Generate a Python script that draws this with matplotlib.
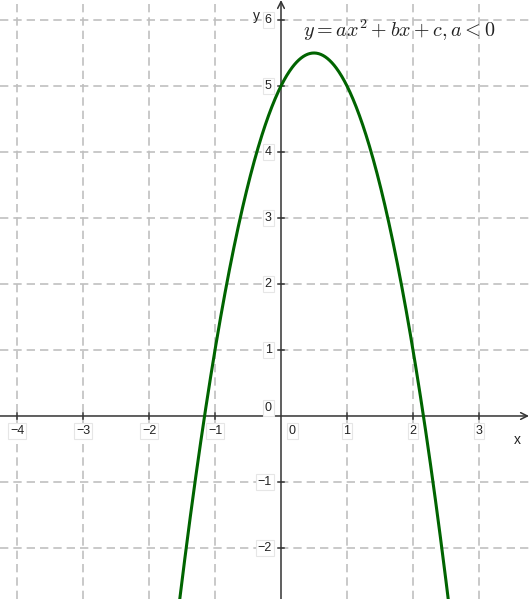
import numpy as np
import matplotlib.pyplot as plt

plt.rcParams['font.family'] = ['Liberation Sans', 'DejaVu Sans']
plt.rcParams['mathtext.fontset'] = 'cm'

# coefficients : sommet (0.5, 5.5), passe par (0, 5)
a, b, c = -2.0, 2.0, 5.0

x_ticks = [-4, -3, -2, -1, 0, 1, 2, 3]
y_ticks = [-2, -1, 0, 1, 2, 3, 4, 5, 6]
x_min, x_max = -4.258, 3.758
y_min, y_max = -2.773, 6.303

fig = plt.figure(figsize=(5.29, 5.99), dpi=100)
ax = fig.add_axes([0, 0, 1, 1])
ax.set_xlim(x_min, x_max)
ax.set_ylim(y_min, y_max)
for s in ax.spines.values():
    s.set_visible(False)
ax.set_xticks([])
ax.set_yticks([])

# grille en pointillés
grid_kw = dict(color='#c0c0c0', lw=1.2, dashes=(5, 3), zorder=1)
for gx in range(-5, 5):
    if gx != 0:
        ax.axvline(gx, **grid_kw)
for gy in range(-3, 7):
    if gy != 0:
        ax.axhline(gy, **grid_kw)

# axes avec flèches
ax.annotate('', xy=(x_max, 0), xytext=(x_min, 0),
            arrowprops=dict(arrowstyle='->', color='#333333', lw=1.1,
                            mutation_scale=12, shrinkA=0, shrinkB=0), zorder=3)
ax.annotate('', xy=(0, y_max), xytext=(0, y_min),
            arrowprops=dict(arrowstyle='->', color='#333333', lw=1.1,
                            mutation_scale=12, shrinkA=0, shrinkB=0), zorder=3)

box = dict(boxstyle='square,pad=0.15', fc='white', ec='#e6e6e6', lw=0.8)
tick_len = 0.05
for t in x_ticks:
    if t != 0:
        ax.plot([t, t], [-tick_len, tick_len], color='#333333', lw=1.1, zorder=3)
        ax.text(t, -0.23, str(t).replace('-', '\u2212'), ha='center', va='center',
                fontsize=9, color='#222222', bbox=box, zorder=4)
ax.text(0.17, -0.23, '0', ha='center', va='center', fontsize=9,
        color='#222222', bbox=box, zorder=4)
for t in y_ticks:
    if t != 0:
        ax.plot([-tick_len, tick_len], [t, t], color='#333333', lw=1.1, zorder=3)
        ax.text(-0.14, t, str(t).replace('-', '\u2212'), ha='right', va='center',
                fontsize=9, color='#222222', bbox=box, zorder=4)
ax.text(-0.14, 0.12, '0', ha='right', va='center', fontsize=9,
        color='#222222', bbox=box, zorder=4)

ax.text(3.58, -0.36, 'x', ha='center', va='center', fontsize=10, color='#222222')
ax.text(-0.37, 6.06, 'y', ha='center', va='center', fontsize=10, color='#222222')

# parabole
xs = np.linspace(-2.0, 3.0, 600)
ax.plot(xs, a * xs**2 + b * xs + c, color='#006400', lw=2.2, zorder=5)

ax.text(0.33, 5.84, r'$y = ax^2 + bx + c, a < 0$', fontsize=14.5, color='#222222',
        ha='left', va='center', zorder=6)

fig.savefig('out.png', dpi=100)
